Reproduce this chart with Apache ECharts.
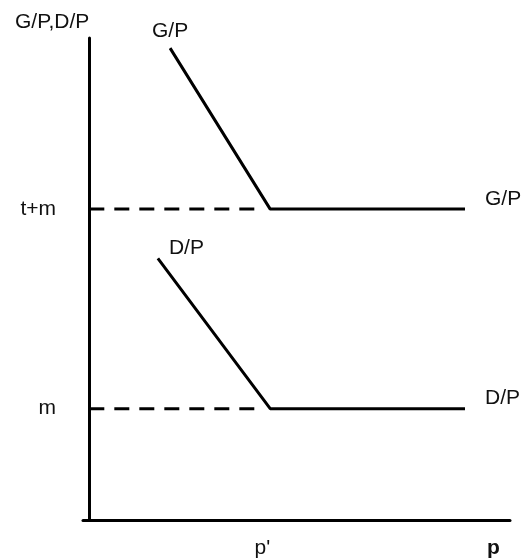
<!DOCTYPE html>
<html>
<head>
<meta charset="utf-8">
<script src="https://cdn.jsdelivr.net/npm/echarts@6/dist/echarts.min.js"></script>
<style>
html,body{margin:0;padding:0;background:#fff;}
#chart{width:522px;height:559px;}
</style>
</head>
<body>
<div id="chart"></div>
<script>
// Data (arbitrary units)
const pPrime = 43;
const lineEndX = 89.3;
const gpLevel = 64.5;   // t+m
const dpLevel = 23.1;   // m
const gpPoints = [[19.2, 97.9], [pPrime, gpLevel], [lineEndX, gpLevel]];
const dpPoints = [[16.3, 54.3], [pPrime, dpLevel], [lineEndX, dpLevel]];
const dashEndX = 39.5;
const gpDash = [[0, gpLevel], [dashEndX, gpLevel]];
const dpDash = [[0, dpLevel], [dashEndX, dpLevel]];
const yTickValues = [dpLevel, gpLevel];
const yTickLabels = ['m', 't+m'];
const xTickValues = [pPrime, 97.6];
const xTickLabels = ["p'", '{b|p}'];
const seriesNames = ['G/P', 'D/P'];

const FONT = 'Liberation Sans, Arial, sans-serif';
const FS = 21;
const TXT = '#111';
const chart = echarts.init(document.getElementById('chart'), null, {renderer: 'canvas'});

function curve(name, pts, startLabel) {
  return {
    type: 'line',
    name: name,
    data: pts.map((p, i) => i === 0 ? {value: p, label: Object.assign({show: true, formatter: name}, startLabel)} : {value: p}),
    showSymbol: true,
    symbolSize: 0,
    lineStyle: {color: '#000', width: 3},
    itemStyle: {color: '#000'},
    label: {show: false, color: TXT, fontSize: FS, fontFamily: FONT},
    endLabel: {show: true, formatter: name, color: TXT, fontSize: FS, fontFamily: FONT, distance: 20, offset: [0, -10]},
    silent: true,
    animation: false,
    z: 3
  };
}
function dashed(pts) {
  return {
    type: 'line',
    data: pts,
    symbol: 'none',
    lineStyle: {color: '#000', width: 3, type: [15, 10]},
    silent: true,
    animation: false,
    z: 2
  };
}

chart.setOption({
  animation: false,
  backgroundColor: '#fff',
  grid: {left: 83, right: 12, top: 38, bottom: 37, containLabel: false},
  xAxis: {
    type: 'value', min: -1.5, max: 100,
    splitLine: {show: false},
    axisLine: {show: true, onZero: true, lineStyle: {color: '#000', width: 3}},
    axisTick: {show: false},
    axisLabel: {
      show: true, customValues: xTickValues, margin: 18, align: 'right',
      color: TXT, fontSize: FS, fontFamily: FONT,
      formatter: v => xTickLabels[xTickValues.indexOf(v)],
      rich: {b: {fontWeight: 'bold', fontSize: FS, fontFamily: FONT, color: TXT}}
    }
  },
  yAxis: {
    type: 'value', min: 0, max: 100,
    splitLine: {show: false},
    axisLine: {show: true, onZero: true, lineStyle: {color: '#000', width: 3}},
    axisTick: {show: false},
    axisLabel: {
      show: true, customValues: yTickValues, margin: 27, align: 'right',
      color: TXT, fontSize: FS, fontFamily: FONT,
      formatter: v => yTickLabels[yTickValues.indexOf(v)]
    },
    name: 'G/P,D/P',
    nameLocation: 'end',
    nameGap: 5,
    nameTextStyle: {align: 'right', verticalAlign: 'bottom', color: TXT, fontSize: FS, fontFamily: FONT}
  },
  series: [
    dashed(gpDash),
    dashed(dpDash),
    curve(seriesNames[0], gpPoints, {position: 'top', distance: 6}),
    curve(seriesNames[1], dpPoints, {position: 'right', distance: 11, offset: [0, -10]})
  ]
});
</script>
</body>
</html>
